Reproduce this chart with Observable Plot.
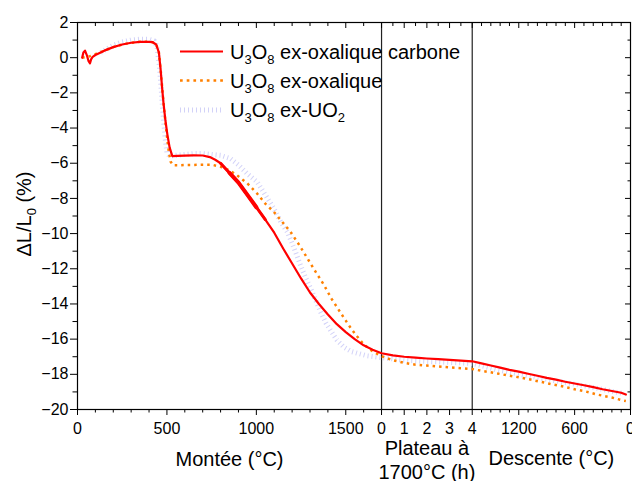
<!DOCTYPE html>
<html><head><meta charset="utf-8">
<script src="https://cdn.jsdelivr.net/npm/d3@7"></script>
<script src="https://cdn.jsdelivr.net/npm/@observablehq/plot@0.6"></script>
<style>body{margin:0;background:#fff;font-family:Arial,"Liberation Sans",sans-serif}</style>
</head><body><div id="chart"></div><script>
// ---- data: [temperature °C or hour, ΔL/L0 %] ----
const redMontee = [[26,0],[33,0.3],[42,0.4],[52,0.15],[62,-0.2],[70,-0.32],[76,-0.1],[85,0.05],[100,0.15],[150,0.4],[200,0.6],[250,0.75],[300,0.85],[350,0.9],[400,0.9],[420,0.88],[440,0.75],[455,0.3],[465,-0.7],[473,-1.7],[481,-2.6],[492,-3.6],[503,-4.4],[515,-5.1],[530,-5.6],[560,-5.58],[600,-5.57],[650,-5.55],[700,-5.56],[740,-5.65],[770,-5.8],[800,-6.0],[850,-6.55],[900,-7.1],[950,-7.8],[1000,-8.5],[1050,-9.2],[1100,-9.95],[1150,-10.85],[1200,-11.7],[1250,-12.55],[1300,-13.35],[1350,-14.0],[1400,-14.6],[1450,-15.15],[1500,-15.6],[1550,-16.0],[1600,-16.35],[1650,-16.6],[1700,-16.8]];
const redPlateau = [[0,-16.8],[0.5,-16.92],[1,-17.0],[1.5,-17.05],[2,-17.1],[2.5,-17.14],[3,-17.18],[3.5,-17.22],[4,-17.26]];
const redDescente = [[1700,-17.26],[1600,-17.38],[1500,-17.5],[1400,-17.62],[1300,-17.75],[1200,-17.85],[1100,-17.97],[1000,-18.08],[900,-18.2],[800,-18.3],[700,-18.42],[600,-18.52],[500,-18.62],[400,-18.73],[300,-18.85],[200,-18.95],[100,-19.05],[50,-19.15]];

const orangeMontee = [[26,0],[60,0.05],[100,0.2],[150,0.4],[200,0.6],[250,0.75],[300,0.85],[350,0.9],[400,0.9],[420,0.88],[440,0.75],[455,0.3],[465,-0.7],[475,-1.9],[485,-3.0],[497,-4.2],[510,-5.3],[520,-5.9],[535,-6.12],[560,-6.12],[600,-6.1],[650,-6.1],[700,-6.08],[750,-6.08],[800,-6.2],[850,-6.4],[893,-6.69],[950,-7.15],[1005,-7.73],[1050,-8.3],[1098,-8.77],[1150,-9.4],[1191,-9.9],[1240,-10.65],[1285,-11.4],[1330,-12.15],[1377,-12.9],[1420,-13.7],[1471,-14.5],[1500,-14.95],[1530,-15.4],[1564,-15.85],[1600,-16.3],[1650,-16.7],[1700,-16.97]];
const orangePlateau = [[0,-16.97],[0.5,-17.2],[1,-17.35],[1.5,-17.45],[2,-17.5],[2.5,-17.55],[3,-17.6],[3.5,-17.65],[4,-17.7]];
const orangeDescente = [[1700,-17.7],[1600,-17.8],[1432,-17.95],[1300,-18.08],[1200,-18.17],[1074,-18.3],[900,-18.5],[716,-18.7],[600,-18.85],[500,-18.95],[357,-19.15],[200,-19.32],[72,-19.5],[50,-19.52]];

const blueMontee = [[130,0.3],[200,0.7],[250,0.9],[300,1.0],[350,1.05],[400,1.05],[430,0.95],[445,0.6],[458,-0.5],[468,-1.8],[478,-3.2],[490,-4.6],[500,-5.4],[515,-5.6],[550,-5.55],[600,-5.5],[650,-5.45],[700,-5.45],[750,-5.5],[800,-5.55],[856,-5.74],[900,-6.1],[950,-6.6],[1005,-7.07],[1050,-7.8],[1098,-8.58],[1140,-9.4],[1173,-9.9],[1210,-10.8],[1247,-11.8],[1275,-12.5],[1303,-13.1],[1330,-13.75],[1359,-14.45],[1390,-15.1],[1415,-15.5],[1450,-16.05],[1489,-16.45],[1530,-16.7],[1564,-16.8],[1620,-16.95],[1700,-17.05]];
const bluePlateau = [[0,-17.05],[1,-17.2],[2,-17.27],[3,-17.32],[4,-17.38]];
const blueDescente = [[1700,-17.38],[1432,-17.75],[1074,-18.12],[716,-18.45],[357,-18.8],[72,-19.1]];

// ---- tick labels ----
const monteeTicks = [0, 500, 1000, 1500];
const plateauTicks = [0, 1, 2, 3, 4];
const descenteTicks = [1200, 600, 0];
const yTicks = [-20, -18, -16, -14, -12, -10, -8, -6, -4, -2, 0, 2];
const seriesNames = ["ex-oxalique carbone", "ex-oxalique", "ex-UO"];
const segmentTitles = ["Montée (°C)", "Plateau à\n1700°C (h)", "Descente (°C)"];

// ---- composite x axis (segment widths in axis units) ----
const W_M = 1700, W_P = 507, W_D = 885;
const uM = t => t;
const uP = h => W_M + h * W_P / 4;
const uD = t => W_M + W_P + (1700 - t) * W_D / 1700;

function build(m, p, d) {
  return [
    ...m.map(([t, v]) => ({u: uM(t), v, t, seg: "m"})),
    ...p.map(([h, v]) => ({u: uP(h), v, t: h, seg: "p"})),
    ...d.map(([t, v]) => ({u: uD(t), v, t, seg: "d"}))
  ];
}
const red = build(redMontee, redPlateau, redDescente);
const orange = build(orangeMontee, orangePlateau, orangeDescente);
const blue = build(blueMontee, bluePlateau, blueDescente);

const labelMap = new Map();
monteeTicks.forEach(t => labelMap.set(uM(t), String(t)));
plateauTicks.forEach(h => labelMap.set(uP(h), String(h)));
descenteTicks.forEach(t => labelMap.set(uD(t), String(t)));
const xMajor = [...labelMap.keys()];
const xMinor = [
  ...d3.range(100, 1700, 100).filter(t => t % 500 !== 0).map(uM),
  ...[0.5, 1.5, 2.5, 3.5].map(uP),
  ...d3.range(1600, 0, -100).filter(t => !descenteTicks.includes(t)).map(uD)
];
const yMinor = d3.range(-19, 2, 2);

const C_RED = "#ff0000", C_OR = "#ff8000", C_BL = "#d2d2f8";

const plot = Plot.plot({
  width: 632, height: 481,
  marginLeft: 77, marginRight: 2, marginTop: 22, marginBottom: 72,
  style: {fontFamily: "Arial, 'Liberation Sans', sans-serif", fontSize: "16px", color: "#000", background: "#fff"},
  x: {domain: [0, W_M + W_P + W_D]},
  y: {domain: [-20, 2]},
  marks: [
    Plot.ruleX([uP(0), uP(4)], {stroke: "#222", strokeWidth: 1.2}),
    Plot.line(blue, {x: "u", y: "v", stroke: C_BL, strokeWidth: 5, strokeDasharray: "1,3", strokeLinecap: "butt"}),
    Plot.line(orange, {x: "u", y: "v", stroke: C_OR, strokeWidth: 2.5, strokeDasharray: "2.5,4", strokeLinecap: "butt"}),
    Plot.line(red, {x: "u", y: "v", stroke: C_RED, strokeWidth: 2.2}),
    Plot.line(red.filter(d => d.seg === "m" && d.t >= 790 && d.t <= 1070), {x: "u", y: "v", stroke: C_RED, strokeWidth: 3}),
    Plot.line(red.filter(d => d.seg === "m" && d.t >= 820 && d.t <= 1000), {x: "u", y: "v", stroke: C_RED, strokeWidth: 4}),
    Plot.frame({stroke: "#000", strokeWidth: 1.2}),
    Plot.axisX(xMajor, {anchor: "bottom", tickSize: 6, tickPadding: 7, tickFormat: u => labelMap.get(u), label: null, fontSize: 16}),
    Plot.axisX(xMinor, {anchor: "bottom", tickSize: 3.5, tickFormat: () => "", label: null}),
    Plot.axisX(xMajor, {anchor: "top", tickSize: -5, tickFormat: () => "", label: null}),
    Plot.axisX(xMinor, {anchor: "top", tickSize: -3, tickFormat: () => "", label: null}),
    Plot.axisY(yTicks, {anchor: "left", tickSize: 7, tickPadding: 2, label: null, fontSize: 16}),
    Plot.axisY(yMinor, {anchor: "left", tickSize: 4.5, tickFormat: () => "", label: null}),
    Plot.axisY(yTicks, {anchor: "right", tickSize: -6, tickFormat: () => "", label: null}),
    Plot.axisY(yMinor, {anchor: "right", tickSize: -3.5, tickFormat: () => "", label: null}),
    Plot.text([segmentTitles[0]], {x: uM(850), frameAnchor: "bottom", lineAnchor: "middle", dy: 50, fontSize: 20, text: d => d}),
    Plot.text([segmentTitles[1]], {x: uP(2), frameAnchor: "bottom", lineAnchor: "middle", dy: 50, fontSize: 20, lineHeight: 1.18, text: d => d}),
    Plot.text([segmentTitles[2]], {x: uD(850), frameAnchor: "bottom", lineAnchor: "middle", dy: 49, fontSize: 20, text: d => d})
  ]
});
document.getElementById("chart").appendChild(plot);

// ---- legend and y label (with subscripts) ----
const svg = d3.select(plot);
const leg = svg.append("g").attr("font-size", 20).attr("fill", "#000").attr("text-anchor", "start");
const legendRows = [
  {y: 51.5, stroke: C_RED, w: 2.2, dash: null, name: seriesNames[0], sub2: null},
  {y: 80.5, stroke: C_OR, w: 2.5, dash: "2.7,4", name: seriesNames[1], sub2: null},
  {y: 110, stroke: C_BL, w: 5, dash: "1,3", name: seriesNames[2], sub2: "2"}
];
legendRows.forEach(r => {
  leg.append("line").attr("x1", 180).attr("x2", 223).attr("y1", r.y).attr("y2", r.y)
    .attr("stroke", r.stroke).attr("stroke-width", r.w).attr("stroke-dasharray", r.dash);
  const t = leg.append("text").attr("x", 230).attr("y", r.y + 7);
  t.append("tspan").text("U");
  t.append("tspan").attr("dy", 5).attr("font-size", 13).text("3");
  t.append("tspan").attr("dy", -5).text("O");
  t.append("tspan").attr("dy", 5).attr("font-size", 13).text("8");
  t.append("tspan").attr("dy", -5).text(" " + r.name);
  if (r.sub2) t.append("tspan").attr("dy", 5).attr("font-size", 13).text(r.sub2);
});
const yl = svg.append("text").attr("font-size", 20).attr("fill", "#000")
  .attr("text-anchor", "middle").attr("transform", "translate(31,214) rotate(-90)");
yl.append("tspan").text("ΔL/L");
yl.append("tspan").attr("dy", 5).attr("font-size", 13).text("0");
yl.append("tspan").attr("dy", -5).text(" (%)");
</script></body></html>
